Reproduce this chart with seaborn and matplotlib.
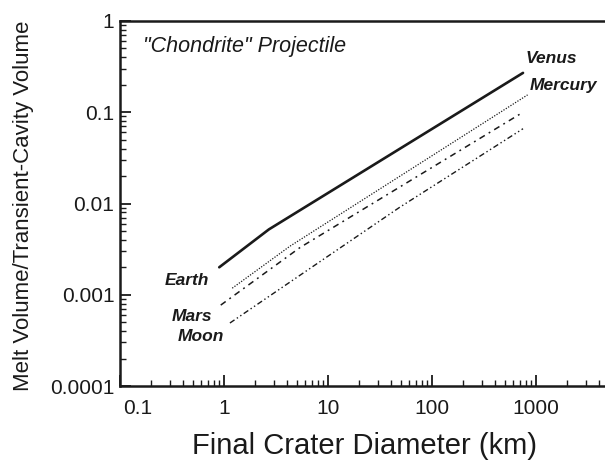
import matplotlib
matplotlib.use("Agg")
from matplotlib import pyplot as plt
from matplotlib import transforms
import pandas as pd
import seaborn as sns

# values (log-log)
earth_x = [0.9, 2.7, 750]
earth_y = [0.0020, 0.0052, 0.27]
mercury_x = [1.2, 4.3, 830]
mercury_y = [0.00118, 0.0034, 0.155]
mars_x = [0.93, 5.4, 750]
mars_y = [0.00077, 0.0033, 0.10]
moon_x = [1.14, 49, 750]
moon_y = [0.00049, 0.0091, 0.066]

x_ticks = [0.1, 1, 10, 100, 1000]
x_tick_labels = ["0.1", "1", "10", "100", "1000"]
y_ticks = [0.0001, 0.001, 0.01, 0.1, 1]
y_tick_labels = ["0.0001", "0.001", "0.01", "0.1", "1"]

sns.set_style("ticks")
plt.rcParams["font.family"] = ["Liberation Sans", "DejaVu Sans"]

fig = plt.figure(figsize=(6.05, 4.63), dpi=100)
ax = fig.add_axes([120 / 605, 1 - 386 / 463, 1 - 120 / 605, 365 / 463])

ink = "#1a1a1a"
series = [
    (earth_x, earth_y, "-", 1.9),
    (mercury_x, mercury_y, (0, (1, 1.2)), 0.9),
    (mars_x, mars_y, (0, (4, 3, 1.2, 3)), 1.1),
    (moon_x, moon_y, (0, (4, 2, 1, 2, 1, 2)), 1.0),
]
for xs, ys, ls, lw in series:
    df = pd.DataFrame({"x": xs, "y": ys})
    sns.lineplot(data=df, x="x", y="y", ax=ax, color=ink,
                 linestyle=ls, linewidth=lw, sort=True, estimator=None)

ax.set_xscale("log")
ax.set_yscale("log")
ax.set_xlim(0.1, 10 ** (-1 + 485 / 104))
ax.set_ylim(0.0001, 1)

ax.set_xticks(x_ticks)
ax.set_xticklabels(x_tick_labels)
ax.set_yticks(y_ticks)
ax.set_yticklabels(y_tick_labels)

ax.tick_params(which="major", direction="in", length=8, width=1.3,
               labelsize=15, colors=ink, pad=4)
ax.tick_params(which="minor", direction="in", length=4, width=1.0,
               colors=ink)
ax.tick_params(axis="x", which="major", pad=9)

# nudge the 0.1 label so it clears the 0.0001 label
lbl = ax.get_xticklabels()[0]
lbl.set_transform(lbl.get_transform() +
                  transforms.ScaledTranslation(18 / 100, 0, fig.dpi_scale_trans))

for side in ["left", "bottom", "top"]:
    ax.spines[side].set_linewidth(1.8)
    ax.spines[side].set_color(ink)
ax.spines["right"].set_visible(False)

ax.set_xlabel("Final Crater Diameter (km)", fontsize=21, color=ink)
ax.xaxis.set_label_coords((365 - 120) / 485, -(432 - 386) / 365)
ax.set_ylabel("Melt Volume/Transient-Cavity Volume", fontsize=16, color=ink)
ax.yaxis.set_label_coords((34 - 120) / 485, 1 - (206 - 21) / 365)

label_kw = dict(fontsize=12.5, fontweight="bold", fontstyle="italic",
                color=ink, ha="center", va="center")
ax.text(0.047, 0.929, "\"Chondrite\" Projectile", fontsize=15.5,
        fontstyle="italic", color=ink, ha="left", va="center",
        transform=ax.transAxes)
ax.text(0.44, 0.00144, "Earth", **label_kw)
ax.text(0.49, 0.00058, "Mars", **label_kw)
ax.text(0.60, 0.00035, "Moon", **label_kw)
ax.text(1390, 0.39, "Venus", **label_kw)
ax.text(1820, 0.195, "Mercury", **label_kw)

fig.savefig("out.png", dpi=100)
